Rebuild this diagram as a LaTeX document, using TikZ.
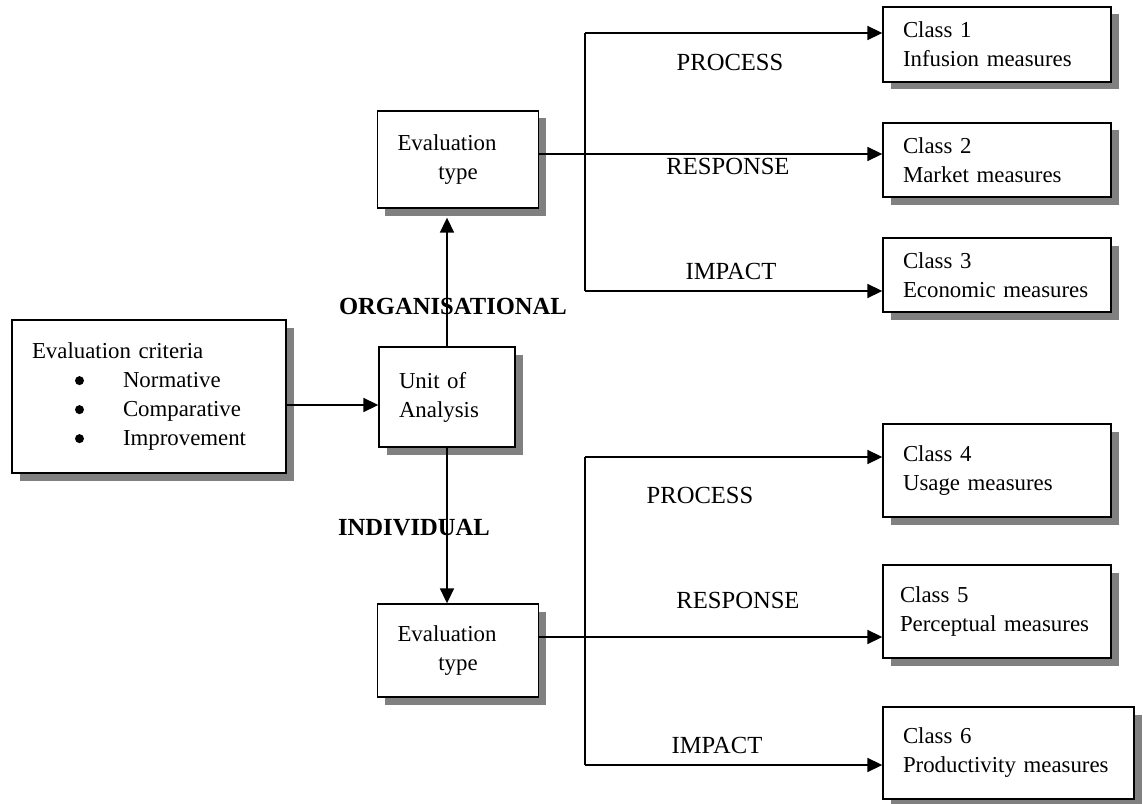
\documentclass[tikz,border=0pt]{standalone}
\usepackage{fontspec}
\setmainfont{Liberation Serif}
\usepackage{tikz}
\usetikzlibrary{shapes,arrows.meta,positioning,calc,shadows}

\newcommand{\critbullet}{\hspace*{0.86cm}\makebox[0.96cm][l]{\tikz[baseline=0pt]\fill (0.09,0.3em) circle (0.09cm);}}

\begin{document}
\begin{tikzpicture}[
    font=\fontsize{13}{16.5}\selectfont,
    box/.style={rectangle, draw, fill=white, line width=0.8pt, inner xsep=0.4cm, align=left,
        drop shadow={shadow xshift=0.15cm, shadow yshift=-0.15cm, fill=black!50, opacity=1}},
    classbox/.style={box, text width=3.76cm, minimum height=1.48cm},
    evalbox/.style={box, align=center, minimum width=3.2cm, minimum height=1.9cm},
    flowlabel/.style={font=\fontsize{14}{16}\selectfont},
    unitlabel/.style={font=\fontsize{14}{16}\selectfont\bfseries},
    line/.style={line width=0.8pt},
    arrow/.style={line, -{Triangle[length=8.5pt, width=8pt]}}
]
    \useasboundingbox (0,0) rectangle (22.86,-16.08);

    % Criteria and unit of analysis
    \node[box, text width=4.68cm, minimum height=3.06cm] (crit) at (2.98,-7.93)
        {Evaluation criteria\\
         \critbullet Normative\\
         \critbullet Comparative\\
         \critbullet Improvement};
    \node[box, text width=1.92cm, minimum height=2.0cm] (unit) at (8.94,-7.94) {Unit of\\Analysis};

    % Evaluation types
    \node[evalbox, minimum height=1.94cm] (evtop) at (9.16,-3.19) {Evaluation\hspace*{0.44cm}\\type};
    \node[evalbox, minimum height=1.86cm] (evbot) at (9.16,-13.01) {Evaluation\hspace*{0.44cm}\\type};

    % Organisational classes
    \node[classbox, minimum height=1.5cm] (c1) at (19.94,-0.89) {Class 1\\Infusion measures};
    \node[classbox] (c2) at (19.94,-3.2) {Class 2\\Market measures};
    \node[classbox] (c3) at (19.94,-5.5) {Class 3\\Economic measures};

    % Individual classes
    \node[classbox, minimum height=1.86cm] (c4) at (19.94,-9.41) {Class 4\\Usage measures};
    \node[classbox, inner xsep=0.34cm, text width=3.88cm, minimum height=1.86cm] (c5) at (19.94,-12.23) {Class 5\\Perceptual measures};
    \node[classbox, text width=4.22cm, minimum height=1.84cm] (c6) at (20.17,-15.06) {Class 6\\Productivity measures};

    % Labels
    \node[unitlabel] (org) at (9.06,-6.12) {ORGANISATIONAL};
    \node[unitlabel] (ind) at (8.28,-10.56) {INDIVIDUAL};
    \node[flowlabel] (oproc) at (14.6,-1.24) {PROCESS};
    \node[flowlabel] (oresp) at (14.56,-3.32) {RESPONSE};
    \node[flowlabel] (oimp) at (14.62,-5.42) {IMPACT};
    \node[flowlabel] (iproc) at (14.0,-9.9) {PROCESS};
    \node[flowlabel] (iresp) at (14.76,-12.0) {RESPONSE};
    \node[flowlabel] (iimp) at (14.34,-14.9) {IMPACT};

    % Arrows - unit of analysis
    \coordinate (cout) at ([yshift=-0.17cm]crit.east);
    \draw[arrow] (cout) -- (cout -| unit.west);
    \draw[arrow, shorten >=0.18cm] (unit.north) -- (unit.north |- evtop.south);
    \draw[arrow] (unit.south) -- (unit.south |- evbot.north);

    % Organisational branches
    \coordinate (oout) at ([yshift=0.11cm]evtop.east);
    \coordinate (otop) at (11.7,-0.66);
    \coordinate (obot) at (11.7,-5.82);
    \draw[arrow] (oout) -- (oout -| c2.west);
    \draw[line] (otop) -- (obot);
    \draw[arrow] (otop) -- (otop -| c1.west);
    \draw[arrow] (obot) -- (obot -| c3.west);

    % Individual branches
    \coordinate (iout) at ([yshift=0.27cm]evbot.east);
    \coordinate (itop) at (11.7,-9.14);
    \coordinate (ibot) at (11.7,-15.3);
    \draw[arrow] (iout) -- (iout -| c5.west);
    \draw[line] (itop) -- (ibot);
    \draw[arrow] (itop) -- (itop -| c4.west);
    \draw[arrow] (ibot) -- (ibot -| c6.west);

\end{tikzpicture}
\end{document}
